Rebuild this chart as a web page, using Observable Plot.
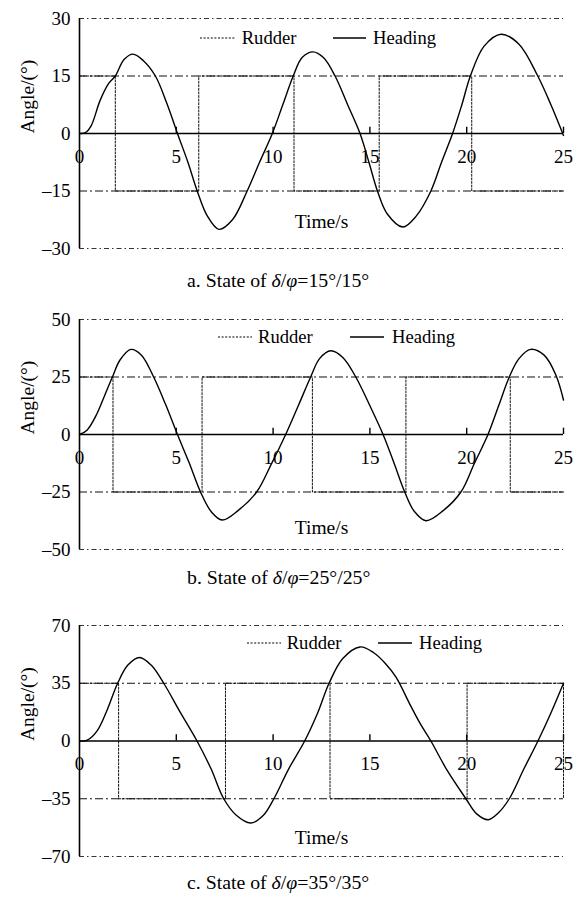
<!DOCTYPE html>
<html><head><meta charset="utf-8">
<script src="https://cdn.jsdelivr.net/npm/d3@7"></script>
<script src="https://cdn.jsdelivr.net/npm/@observablehq/plot@0.6"></script>
<style>
body{margin:0;background:#fff;width:579px;height:903px;position:relative;overflow:hidden;font-family:"Liberation Serif","Times New Roman",serif;color:#000}
.panel{position:absolute;left:0;width:579px}
.caption{position:absolute;font-size:19.8px;line-height:19px;white-space:nowrap}
.ltext{position:absolute;font-size:18.6px;line-height:18px;white-space:nowrap}
.lsample{position:absolute;height:18px}
</style></head><body>
<script>
// ---- data ----
const timeTicks = [0, 5, 10, 15, 20, 25];
const panelNames = ["a", "b", "c"];
const angleLimits = [30, 50, 70];
const thresholds = [15, 25, 35];
const angleTicksA = [-30, -15, 0, 15, 30];
const angleTicksB = [-50, -25, 0, 25, 50];
const angleTicksC = [-70, -35, 0, 35, 70];
const captionText = ["a. State of ", "b. State of ", "c. State of "];
const captionValues = ["15°/15°", "25°/25°", "35°/35°"];
const seriesNames = ["Rudder", "Heading"];
const yLabel = "Angle/(°)";
const xLabel = "Time/s";

const headingTimeA = [0,0.3,0.6,1.07,1.5,1.85,2.3,2.76,3.3,3.92,4.5,5.06,5.6,6.08,6.6,7.2,7.9,8.66,9.3,9.96,10.5,11.04,11.5,12.06,12.6,13.2,13.85,14.49,14.95,15.39,15.9,16.7,17.4,18.15,18.7,19.27,19.75,20.19,20.9,21.78,22.7,23.67,24.35,25];
const headingA     = [0,0.2,2,8.7,13,15,19.3,20.7,19,15,8,0,-7.5,-15,-21.5,-25,-22.5,-15,-7.5,0,7.5,15,19.8,21.3,19.8,15,7.5,0,-7.5,-15,-21,-24.4,-21.5,-15,-7.5,0,7.5,15,22.8,25.9,23.3,15,7.5,-0.5];
const rudderTimeA  = [0,0,1.85,6.16,11.08,15.48,20.26,25];
const rudderA      = [0,15,-15,15,-15,15,-15,-15];

const headingTimeB = [0,0.4,0.9,1.3,1.7,2.1,2.66,3.2,3.83,4.45,5.06,5.65,6.25,6.8,7.37,8.2,9.15,9.9,10.65,11.3,11.94,12.4,12.98,13.6,14.27,15.0,15.68,16.25,16.8,17.3,17.9,18.8,19.7,20.4,21.1,21.65,22.2,22.7,23.3,24.0,24.6,25];
const headingB     = [0,2,9,17,25,32.5,37,34.5,25,13,0,-12,-25,-33.5,-37.2,-33,-25,-13,0,12.5,25,33,36.4,33.5,25,12.5,0,-12.5,-25,-33.5,-37.5,-33,-25,-12.5,0,12.5,25,33,37,34.5,26,15];
const rudderTimeB  = [0,0,1.73,6.33,12.03,16.86,22.25,25];
const rudderB      = [0,25,-25,25,-25,25,-25,-25];

const headingTimeC = [0,0.4,0.9,1.4,1.97,2.5,3.1,3.7,4.35,5.2,6.07,6.8,7.45,8.1,8.84,9.5,10.04,10.8,11.63,12.3,12.89,13.6,14.49,15.2,15.8,16.34,17.12,17.6,18.15,19.0,19.96,20.5,21.12,21.6,22.2,22.95,23.68,24.35,25];
const headingC     = [0,0.5,6,18,35,46,50.6,46,35,17.5,0,-17,-35,-45,-49.7,-45,-35,-17,0,17,35,50,57,53.5,47,38.8,21,10.5,0,-18,-35,-44,-47.7,-44,-35,-17,0,17,35];
const rudderTimeC  = [0,0,2.02,7.54,12.94,20.02,25];
const rudderC      = [0,35,-35,35,-35,35,-35];

const angleTicks = [angleTicksA, angleTicksB, angleTicksC];
const headingTimes = [headingTimeA, headingTimeB, headingTimeC];
const headings = [headingA, headingB, headingC];
const rudderTimes = [rudderTimeA, rudderTimeB, rudderTimeC];
const rudders = [rudderA, rudderB, rudderC];

// ---- layout (pixels) ----
const svgTops = [0, 300.7, 607];
const plotHeights = [230, 230, 231];
const captionTops = [271, 567.5, 873];
const legendLayout = [
  {cy: 38.3, r0: 200, r1: 235, rt: 241.7, h0: 332.7, h1: 366, ht: 373},
  {cy: 336.7, r0: 218, r1: 252, rt: 258, h0: 350, h1: 384, ht: 392},
  {cy: 642.7, r0: 246.7, r1: 280.7, rt: 286.7, h0: 378, h1: 412, ht: 419}
];
const timeLabelFrac = [-0.765, -0.81, -0.84];
const FONT = '"Liberation Serif","Times New Roman",serif';

const fmt = d => d < 0 ? "–" + Math.abs(d) : String(d);

panelNames.forEach((p, i) => {
  const lim = angleLimits[i], thr = thresholds[i];
  const heading = headingTimes[i].map((t, k) => ({t, v: headings[i][k]}));
  const rudder = rudderTimes[i].map((t, k) => ({t, v: rudders[i][k]}));
  const chart = Plot.plot({
    width: 579,
    height: 18 + plotHeights[i] + 4,
    marginLeft: 79, marginRight: 16, marginTop: 18, marginBottom: 4,
    x: {domain: [0, 25], axis: null},
    y: {domain: [-lim, lim], axis: null},
    style: {fontFamily: FONT, fontSize: "19px", color: "#000", background: "transparent", overflow: "visible"},
    marks: [
      Plot.ruleY([-lim, lim], {stroke: "#333", strokeWidth: 1, strokeDasharray: "5,3,1.5,3"}),
      Plot.ruleY([-thr, thr], {stroke: "#111", strokeWidth: 1.2, strokeDasharray: "8,3,2,3"}),
      Plot.line(rudder, {x: "t", y: "v", curve: "step-after", stroke: "#111", strokeWidth: 1, strokeDasharray: "2,1.6"}),
      Plot.ruleY([0], {stroke: "#000", strokeWidth: 1.6}),
      Plot.ruleX([0], {y1: -lim, y2: lim, stroke: "#000", strokeWidth: 1.6}),
      Plot.ruleX(timeTicks.slice(1), {x: d => d, y1: 0, y2: lim * 0.055, stroke: "#000", strokeWidth: 1.4}),
      Plot.line(heading, {x: "t", y: "v", curve: "catmull-rom", stroke: "#000", strokeWidth: 1.4}),
      Plot.text(timeTicks, {x: d => d, y: 0, dy: 23, text: d => String(d), fontSize: 19}),
      Plot.text(angleTicks[i], {x: 0, y: d => d, dx: -9, textAnchor: "end", text: fmt, fontSize: 19}),
      Plot.text([yLabel], {frameAnchor: "left", dx: -52, rotate: -90, text: d => d, fontSize: 19.5}),
      Plot.text([xLabel], {x: 12.5, y: lim * timeLabelFrac[i], text: d => d, fontSize: 19.5})
    ]
  });
  const wrap = document.createElement("div");
  wrap.className = "panel";
  wrap.style.top = svgTops[i] + "px";
  wrap.appendChild(chart);
  document.body.appendChild(wrap);

  // caption
  const cap = document.createElement("div");
  cap.className = "caption";
  cap.style.left = "187px";
  cap.style.top = captionTops[i] + "px";
  cap.innerHTML = captionText[i] + "<i>δ</i>/<i>φ</i>=" + captionValues[i];
  document.body.appendChild(cap);

  // legend
  const L = legendLayout[i];
  const addSample = (x0, x1, dash, width) => {
    const ns = "http://www.w3.org/2000/svg";
    const s = document.createElementNS(ns, "svg");
    s.setAttribute("class", "lsample");
    s.setAttribute("width", x1 - x0);
    s.setAttribute("height", 18);
    s.style.left = x0 + "px";
    s.style.top = (L.cy - 9) + "px";
    const ln = document.createElementNS(ns, "line");
    ln.setAttribute("x1", 0); ln.setAttribute("x2", x1 - x0);
    ln.setAttribute("y1", 9); ln.setAttribute("y2", 9);
    ln.setAttribute("stroke", "#000");
    ln.setAttribute("stroke-width", width);
    if (dash) ln.setAttribute("stroke-dasharray", dash);
    s.appendChild(ln);
    document.body.appendChild(s);
  };
  const addText = (x, t) => {
    const d = document.createElement("div");
    d.className = "ltext";
    d.style.left = x + "px";
    d.style.top = (L.cy - 9) + "px";
    d.textContent = t;
    document.body.appendChild(d);
  };
  addSample(L.r0, L.r1, "2,1.6", 1);
  addText(L.rt, seriesNames[0]);
  addSample(L.h0, L.h1, null, 1.5);
  addText(L.ht, seriesNames[1]);
});
</script>
</body></html>
